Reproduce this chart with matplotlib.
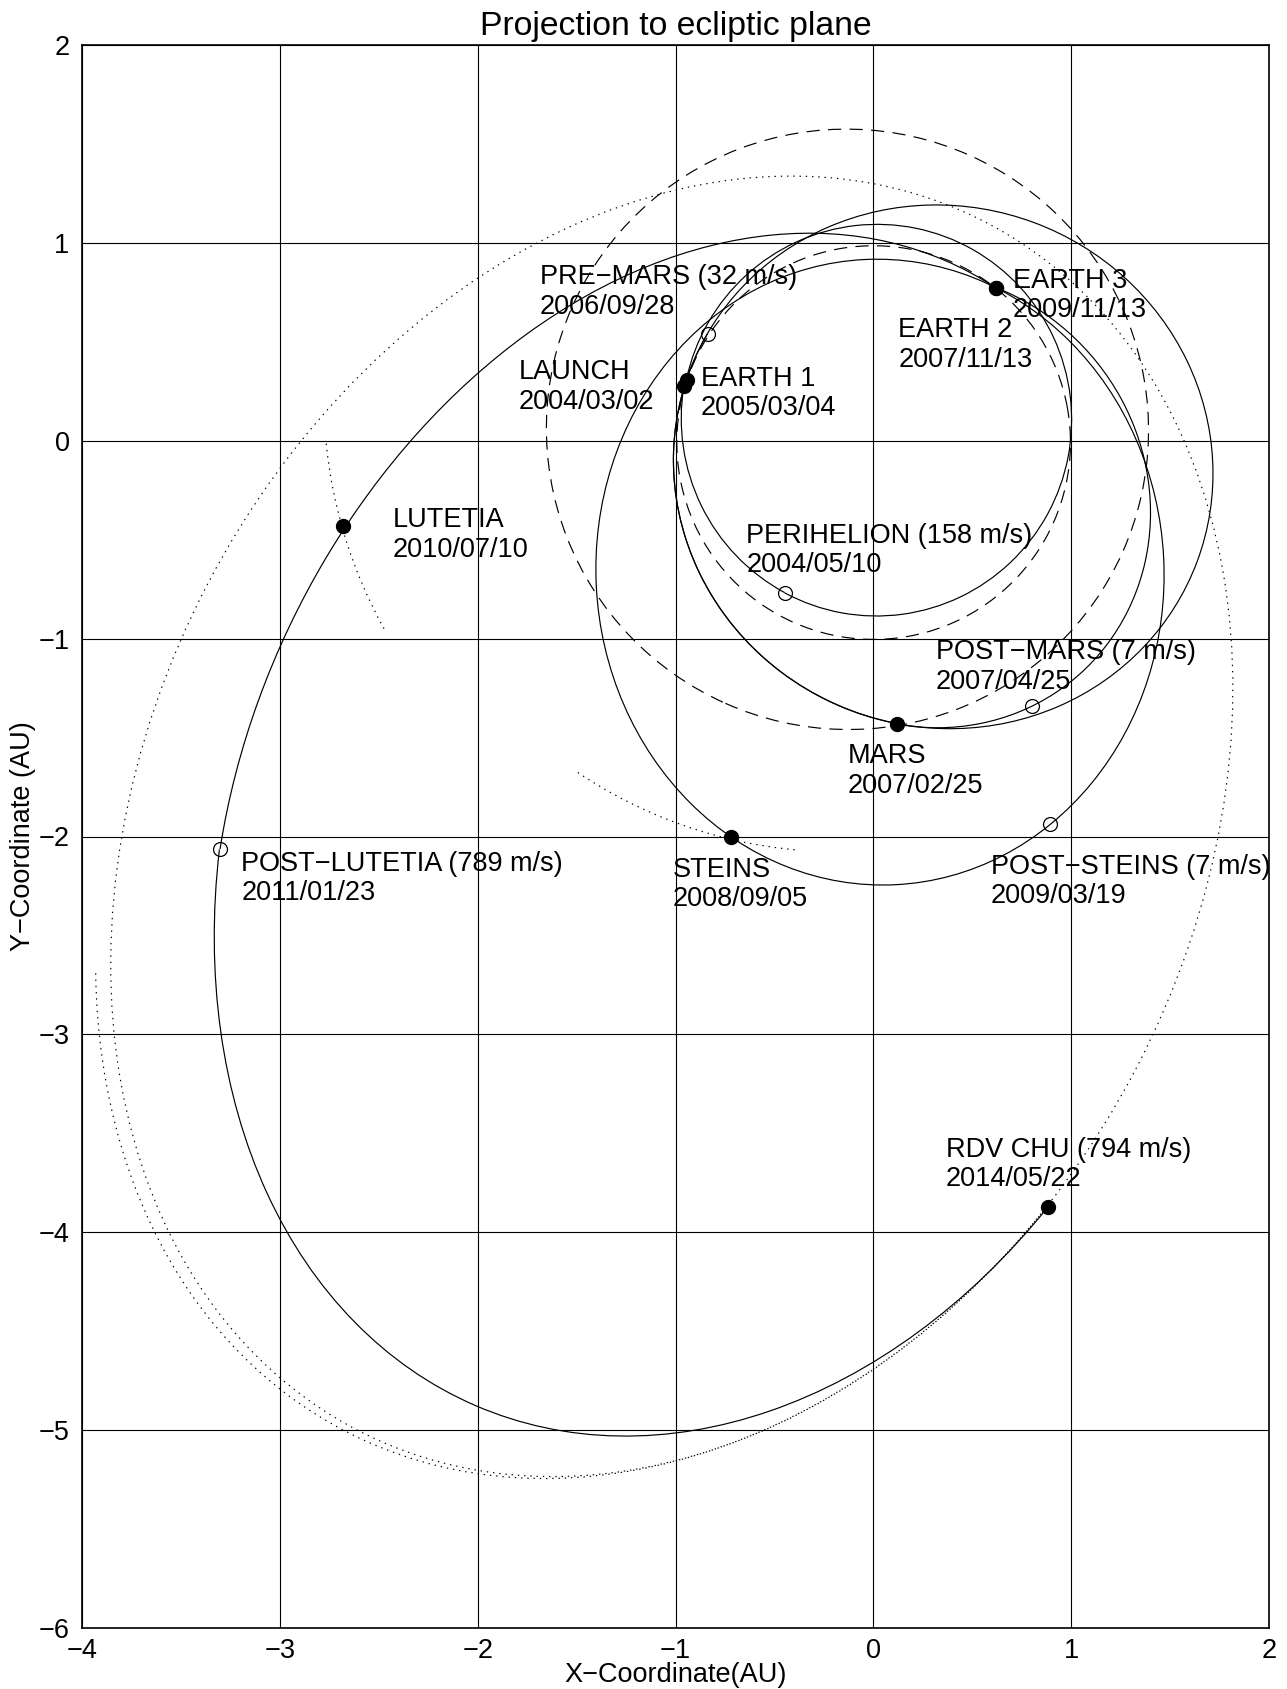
import numpy as np
import matplotlib
matplotlib.use("Agg")
import matplotlib.pyplot as plt
from matplotlib.patches import Arc, Ellipse

plt.rcParams['font.family'] = ['Liberation Sans', 'DejaVu Sans']
plt.rcParams['lines.scale_dashes'] = False

# mission events (heliocentric ecliptic x/y in AU)
ev_name = ["LAUNCH", "PERIHELION (158 m/s)", "EARTH 1", "PRE\u2212MARS (32 m/s)", "MARS",
           "POST\u2212MARS (7 m/s)", "EARTH 2", "STEINS", "POST\u2212STEINS (7 m/s)", "EARTH 3",
           "LUTETIA", "POST\u2212LUTETIA (789 m/s)", "RDV CHU (794 m/s)"]
ev_date = ["2004/03/02", "2004/05/10", "2005/03/04", "2006/09/28", "2007/02/25",
           "2007/04/25", "2007/11/13", "2008/09/05", "2009/03/19", "2009/11/13",
           "2010/07/10", "2011/01/23", "2014/05/22"]
ev_x = [-0.958, -0.448, -0.944, -0.838, 0.121, 0.804, 0.619, -0.717, 0.891, 0.619, -2.683, -3.303, 0.883]
ev_y = [0.275, -0.769, 0.309, 0.540, -1.433, -1.341, 0.775, -2.004, -1.937, 0.775, -0.433, -2.064, -3.873]
ev_filled = [True, False, True, False, True, False, True, True, False, True, True, False, True]

# where each label sits (left edge, baseline of the name line)
lab_x = [-1.793, -0.643, -0.873, -1.685, -0.128, 0.316, 0.127, -1.014, 0.594, 0.706, -2.430, -3.195, 0.366]
lab_y = [0.311, -0.515, 0.277, 0.791, -1.630, -1.104, 0.523, -2.203, -2.189, 0.774, -0.437, -2.173, -3.621]

# orbit legs: semi-major axis, eccentricity, longitude of perihelion,
# start / end ecliptic longitude (0..360 means the whole orbit)
orb_a    = [1.002, 0.990, 1.370, 1.370, 1.182, 1.582, 3.092, 3.201, 3.441, 3.472, 2.435, 2.364, 0.995, 1.523]
orb_e    = [0.118, 0.107, 0.275, 0.275, 0.332, 0.420, 0.683, 0.648, 0.639, 0.634, 0.164, 0.146, 0.009, 0.094]
orb_peri = [258.1, 260.3, 159.6, 159.6, 130.9, 92.9, 64.45, 68.1, 62.4, 61.55, 331.1, 306.3, 100.0, 336.0]
orb_from = [163.9, 239.7, 0.0, 147.1, 274.8, 0.0, 51.4, 212.0, 0.0, 214.4, 180.3, 228.3, 0.0, 0.0]
orb_to   = [239.7, 161.8, 360.0, 274.8, 51.4, 360.0, 212.0, 282.8, 360.0, 282.8, 201.0, 259.3, 360.0, 360.0]
orb_style = ["solid"] * 8 + ["dotted"] * 4 + ["dashed"] * 2

LINESTYLES = {"solid": "-", "dotted": (0, (1.0, 3.5)), "dashed": (0, (9.5, 6.0))}


def centre_angle(a, e, nu_deg):
    """angle of the orbit point at true anomaly nu, seen from the ellipse centre"""
    nu = np.radians(nu_deg)
    r = a * (1 - e**2) / (1 + e * np.cos(nu))
    return np.degrees(np.arctan2(r * np.sin(nu), r * np.cos(nu) + a * e))


def orbit_patch(a, e, peri, lon1, lon2, style):
    b = a * np.sqrt(1 - e**2)
    w = np.radians(peri)
    centre = (-a * e * np.cos(w), -a * e * np.sin(w))
    kw = dict(fill=False, edgecolor='black', lw=0.85, linestyle=LINESTYLES[style])
    if lon2 - lon1 >= 360:
        return Ellipse(centre, 2 * a, 2 * b, angle=peri, **kw)
    t1 = centre_angle(a, e, lon1 - peri)
    t2 = centre_angle(a, e, lon2 - peri)
    return Arc(centre, 2 * a, 2 * b, angle=peri, theta1=t1, theta2=t2, **kw)


fig = plt.figure(figsize=(12.87, 16.89), dpi=100)
ax = fig.add_axes([82 / 1287, 61 / 1689, 1187 / 1287, 1583 / 1689])

for i in range(len(orb_a)):
    ax.add_patch(orbit_patch(orb_a[i], orb_e[i], orb_peri[i], orb_from[i], orb_to[i], orb_style[i]))

for i in range(len(ev_x)):
    if ev_filled[i]:
        ax.plot(ev_x[i], ev_y[i], 'o', ms=10, color='black', zorder=5)
    else:
        ax.plot(ev_x[i], ev_y[i], 'o', ms=10, mfc='none', mec='black', mew=0.9, zorder=5)
    ax.text(lab_x[i], lab_y[i], ev_name[i], fontsize=19.5, ha='left', va='baseline')
    ax.text(lab_x[i], lab_y[i] - 0.148, ev_date[i], fontsize=19.5, ha='left', va='baseline')

ax.set_xlim(-4, 2)
ax.set_ylim(-6, 2)
ax.set_aspect('equal', adjustable='box')
ax.set_xticks(range(-4, 3))
ax.set_yticks(range(-6, 3))
ax.grid(True, color='black', lw=0.8, linestyle='-')
ax.set_axisbelow(True)
ax.tick_params(axis='x', length=0, labelsize=19.5, pad=7.5)
ax.tick_params(axis='y', length=0, labelsize=19.5, pad=9)
for sp in ax.spines.values():
    sp.set_linewidth(1.2)

ax.set_title("Projection to ecliptic plane", fontsize=24.3, pad=7)
ax.set_xlabel("X\u2212Coordinate(AU)", fontsize=19.5, labelpad=-1.5)
ax.set_ylabel("Y\u2212Coordinate (AU)", fontsize=19.5, labelpad=2)

fig.savefig("out.png", dpi=100)
